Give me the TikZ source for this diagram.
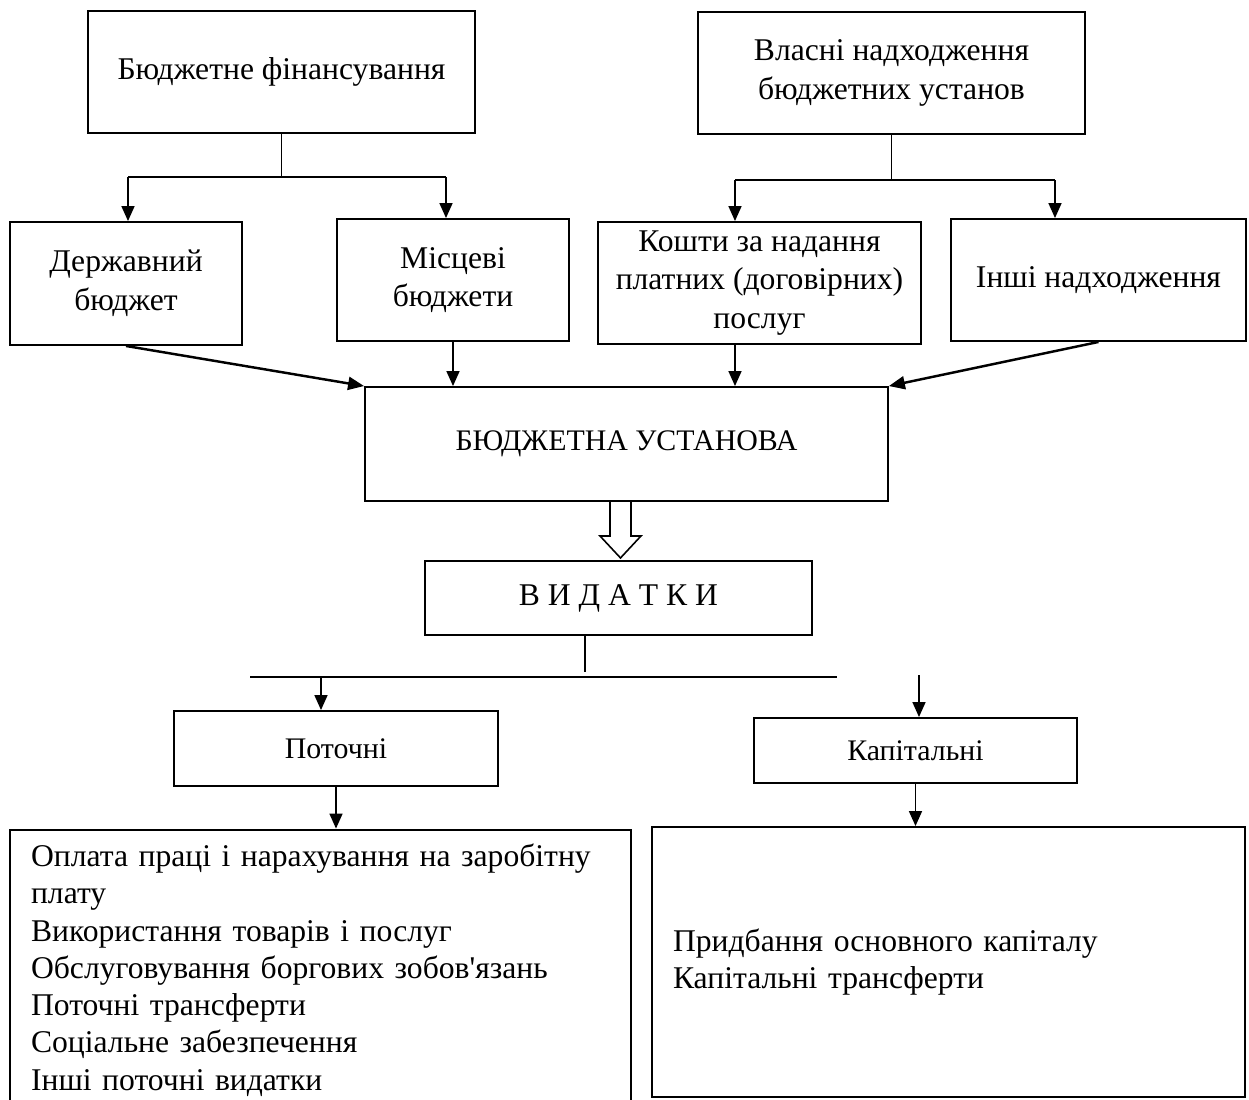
\documentclass[tikz,border=0pt]{standalone}
\usepackage{fontspec}
\setmainfont{Liberation Serif}[Ligatures=TeXOff]
\usetikzlibrary{calc,arrows.meta}
\tikzset{
  blok/.style 2 args={draw, line width=1.1pt, minimum width=#1, minimum height=#2, inner sep=0pt, align=center, font=\fontsize{18}{22}\selectfont},
  menshe/.style={font=\fontsize{17}{20}\selectfont},
  spysok/.style 2 args={draw, line width=1.1pt, text width=#1, minimum height=#2, inner xsep=0.42cm, inner ysep=0pt, align=left, font=\fontsize{18}{21.2}\selectfont},
  liniya/.style={line width=0.6pt},
  strilka/.style={line width=0.9pt, -{Triangle[length=0.3cm,width=0.26cm]}},
  strilka2/.style={line width=1.4pt, -{Triangle[length=0.32cm,width=0.26cm]}}
}

\begin{document}
\begin{tikzpicture}[x=0.02cm, y=-0.02cm]
			%%%%% START %%%%%
			\useasboundingbox (0,0) rectangle (1249,1100);
			
			\node[blok={7.74cm}{2.44cm}] (finans) at (281.5,72) {Бюджетне фінансування};
			\node[blok={7.74cm}{2.44cm}] (vlasni) at (891.5,73) {Власні надходження\\бюджетних установ};
			
			\node[blok={4.64cm}{2.46cm}] (derzh) at (126,283.5) {Державний\\бюджет};
			\node[blok={4.64cm}{2.44cm}] (misc) at (453,280) {Місцеві\\бюджети};
			\node[blok={6.46cm}{2.44cm}] (koshty) at (759.5,283) {Кошти за надання\\платних (договірних)\\послуг};
			\node[blok={5.9cm}{2.44cm}] (inshi) at (1098.5,280) {Інші надходження};
			
			\node[blok={10.46cm}{2.28cm}, menshe] (ustanova) at (626.5,444) {БЮДЖЕТНА УСТАНОВА};
			\node[blok={7.74cm}{1.48cm}] (vydatky) at (618.5,598) {В И Д А Т К И};
			
			\node[blok={6.48cm}{1.5cm}, menshe] (potochni) at (336,748.5) {Поточні};
			\node[blok={6.46cm}{1.3cm}, menshe] (kapital) at (915.5,750.5) {Капітальні};
			
			\node[spysok={11.58cm}{5.62cm}] (potSpys) at (320.5,970) {Оплата праці і нарахування на заробітну\\плату\\Використання товарів і послуг\\Обслуговування боргових зобов'язань\\Поточні трансферти\\Соціальне забезпечення\\Інші поточні видатки};
			\node[spysok={11.02cm}{5.4cm}] (kapSpys) at (948.5,962) {Придбання основного капіталу\\Капітальні трансферти};
			
			\coordinate (finL) at (128,177);
			\coordinate (finR) at (446,177);
			\draw[liniya] (finans.south) -- (finans.south |- finL);
			\draw[liniya] (finL) -- (finR);
			\draw[strilka] (finL) -- (finL |- derzh.north);
			\draw[strilka] (finR) -- (finR |- misc.north);
			
			\coordinate (vlL) at (735,180);
			\coordinate (vlR) at (1055,180);
			\draw[liniya] (vlasni.south) -- (vlasni.south |- vlL);
			\draw[liniya] (vlL) -- (vlR);
			\draw[strilka] (vlL) -- (vlL |- koshty.north);
			\draw[strilka] (vlR) -- (vlR |- inshi.north);
			
			\draw[strilka2] (derzh.south) -- (ustanova.north west);
			\draw[strilka] (misc.south) -- (misc.south |- ustanova.north);
			\draw[strilka] (koshty.south -| vlL) -- (vlL |- ustanova.north);
			\draw[strilka2] (inshi.south) -- (ustanova.north east);
			
			\draw[line width=0.9pt] ($(ustanova.south)+(-16.5,0)$) -- ++(0,34) -- ++(-10,0) -- ++(20.5,22) -- ++(20.5,-22) -- ++(-10,0) -- ++(0,-34);
			
			\coordinate (vydStem) at (585,672);
			\coordinate (vydL) at (250,677);
			\coordinate (vydR) at (837,677);
			\draw[liniya] (vydStem |- vydatky.south) -- (vydStem);
			\draw[liniya] (vydL) -- (vydR);
			\coordinate (potVerh) at (321,677);
			\coordinate (kapVerh) at (919,675);
			\draw[strilka] (potVerh) -- (potVerh |- potochni.north);
			\draw[strilka] (kapVerh) -- (kapVerh |- kapital.north);
			
			\draw[strilka] (potochni.south) -- (potochni.south |- potSpys.north);
			\draw[strilka] (kapital.south) -- (kapital.south |- kapSpys.north);
			
			%%%%% END %%%%%
\end{tikzpicture}
\end{document}
